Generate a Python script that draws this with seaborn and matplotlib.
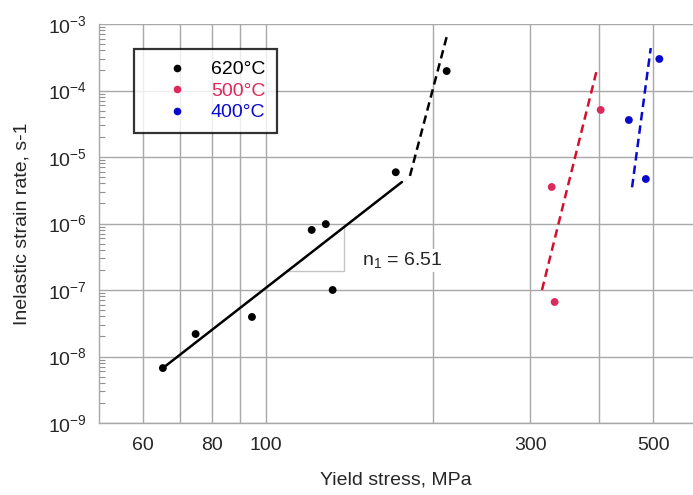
import numpy as np
import pandas as pd
import matplotlib
matplotlib.use("Agg")
import matplotlib.pyplot as plt
import matplotlib.ticker as mticker
from matplotlib.lines import Line2D
import seaborn as sns

# ---- data ----
x620 = [65.2, 74.7, 94.4, 132, 121, 128.3, 171.6, 212]
y620 = [6.7e-9, 2.18e-8, 3.93e-8, 1.0e-7, 8.0e-7, 9.8e-7, 5.9e-6, 1.96e-4]
x500 = [328, 402, 332]
y500 = [3.54e-6, 5.1e-5, 6.6e-8]
x400 = [452, 485, 513]
y400 = [3.6e-5, 4.67e-6, 2.98e-4]

fit620_x = [65.2, 176]
fit620_y = [6.7e-9, 4.2e-6]
dash620_x = [182, 212]
dash620_y = [5.2e-6, 6.4e-4]
dash500_x = [315, 396]
dash500_y = [1.0e-7, 2.1e-4]
dash400_x = [458, 495]
dash400_y = [3.5e-6, 4.35e-4]

tri_x = [109, 138.3, 138.3]
tri_y = [1.93e-7, 1.93e-7, 8.95e-7]

labels = ["620°C", "500°C", "400°C"]
colors = ["#000000", "#DC2A5C", "#0A0ACC"]
line_colors = ["#000000", "#D4102C", "#0A0ACC"]

xticks = [60, 80, 100, 300, 500]
xgrid = [60, 70, 80, 90, 100, 200, 300, 400, 500]

# ---- style ----
sns.set_style("white")
plt.rcParams["font.family"] = ["Liberation Sans", "DejaVu Sans"]
plt.rcParams["mathtext.fontset"] = "custom"
plt.rcParams["mathtext.rm"] = "Liberation Sans"
plt.rcParams["mathtext.it"] = "Liberation Sans:italic"
plt.rcParams["mathtext.default"] = "regular"

FS = 14

df = pd.DataFrame({
    "x": x620 + x500 + x400,
    "y": y620 + y500 + y400,
    "T": [labels[0]] * len(x620) + [labels[1]] * len(x500) + [labels[2]] * len(x400),
})

fig = plt.figure(figsize=(6.93, 4.95), dpi=100)
ax = fig.add_axes([99 / 693, 1 - 423 / 495, 594 / 693, 399 / 495])
ax.set_xscale("log")
ax.set_yscale("log")
ax.set_xlim(50, 590)
ax.set_ylim(1e-9, 1e-3)

grid_c = "#a8a8a8"
for gx in xgrid:
    ax.axvline(gx, color=grid_c, lw=1.0, zorder=0)
for e in range(-9, -2):
    ax.axhline(10.0 ** e, color=grid_c, lw=1.0, zorder=0)

# slope triangle
ax.plot(tri_x, tri_y, color="#c4c4c4", lw=1.0, zorder=1)

# lines
sns.lineplot(x=fit620_x, y=fit620_y, color=line_colors[0], lw=1.8, ax=ax, zorder=3)
for lx, ly, c in [(dash620_x, dash620_y, line_colors[0]),
                  (dash500_x, dash500_y, line_colors[1]),
                  (dash400_x, dash400_y, line_colors[2])]:
    ax.plot(lx, ly, color=c, lw=1.8, dashes=(3.4, 2.0), zorder=3)

sns.scatterplot(data=df, x="x", y="y", hue="T", palette=dict(zip(labels, colors)),
                s=32, edgecolor="none", ax=ax, zorder=4, legend=False)

ax.text(149, 2.8e-7, "n$_1$ = 6.51", fontsize=FS, va="center", ha="left",
        bbox=dict(facecolor="white", edgecolor="none", pad=1))

# ticks
ax.xaxis.set_major_locator(mticker.FixedLocator(xticks))
ax.xaxis.set_major_formatter(mticker.FixedFormatter([str(t) for t in xticks]))
ax.xaxis.set_minor_locator(mticker.NullLocator())
ax.tick_params(axis="x", which="major", length=0, labelsize=FS, pad=10)
ax.yaxis.set_major_locator(mticker.LogLocator(base=10, numticks=10))
ax.yaxis.set_major_formatter(mticker.LogFormatterMathtext())
ax.yaxis.set_minor_locator(mticker.LogLocator(base=10, subs=np.arange(2, 10), numticks=20))
ax.yaxis.set_minor_formatter(mticker.NullFormatter())
ax.tick_params(axis="y", which="major", length=0, labelsize=FS, pad=9)
ax.tick_params(axis="y", which="minor", direction="in", length=4.5, width=0.8,
               color="#909090", left=True)

for side in ["top", "right"]:
    ax.spines[side].set_visible(False)
for side in ["left", "bottom"]:
    ax.spines[side].set_color(grid_c)
    ax.spines[side].set_linewidth(1.0)

ax.set_xlabel("Yield stress, MPa", fontsize=FS, labelpad=13)
ax.set_ylabel("Inelastic strain rate, s-1", fontsize=FS, labelpad=12)

# legend
handles = [Line2D([], [], ls="none", marker="o", markersize=5.5, color=c,
                  markeredgecolor="none") for c in colors]
leg = ax.legend(handles, labels, loc="upper left", bbox_to_anchor=(0.059, 0.937),
                fontsize=FS, frameon=True, fancybox=False, handletextpad=0.15,
                borderpad=0.6, labelspacing=0.2, handlelength=3.2, borderaxespad=0)
leg.get_frame().set_edgecolor("black")
leg.get_frame().set_linewidth(1.6)
for t, c in zip(leg.get_texts(), colors):
    t.set_color(c)

fig.savefig("out.png", dpi=100)
